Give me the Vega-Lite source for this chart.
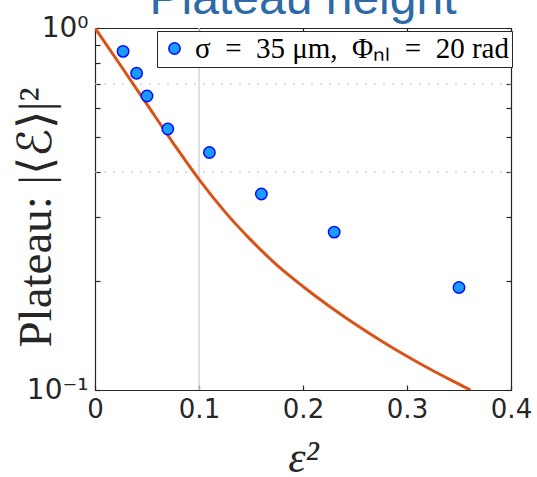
{
  "$schema": "https://vega.github.io/schema/vega-lite/v6.json",
  "width": 416,
  "height": 362,
  "autosize": {"type": "none"},
  "padding": {"left": 95, "top": 28, "right": 26, "bottom": 87},
  "background": "white",
  "title": {
    "text": "Plateau height",
    "font": "Liberation Sans",
    "fontSize": 48,
    "fontWeight": "normal",
    "color": "#2e6aa6",
    "anchor": "middle",
    "frame": "group",
    "baseline": "alphabetic",
    "offset": -48
  },
  "config": {
    "view": {"stroke": null},
    "axis": {
      "grid": false,
      "domainColor": "#262626",
      "domainWidth": 1.2,
      "tickColor": "#262626",
      "tickWidth": 1.2,
      "tickSize": -5,
      "labelColor": "#262626",
      "labelFont": "DejaVu Sans",
      "labelFontSize": 26,
      "labelFlush": false,
      "titleColor": "#262626",
      "titleFont": "Liberation Serif",
      "titleFontWeight": "normal",
      "titleFontSize": 44
    }
  },
  "datasets": {
    "model": [
      {"eps2": 0.0, "plateau": 1.0},
      {"eps2": 0.025, "plateau": 0.7852},
      {"eps2": 0.05, "plateau": 0.6152},
      {"eps2": 0.075, "plateau": 0.4819},
      {"eps2": 0.1, "plateau": 0.3819},
      {"eps2": 0.125, "plateau": 0.3105},
      {"eps2": 0.15, "plateau": 0.2594},
      {"eps2": 0.175, "plateau": 0.2213},
      {"eps2": 0.2, "plateau": 0.1932},
      {"eps2": 0.225, "plateau": 0.1706},
      {"eps2": 0.25, "plateau": 0.1521},
      {"eps2": 0.275, "plateau": 0.1368},
      {"eps2": 0.3, "plateau": 0.1239},
      {"eps2": 0.325, "plateau": 0.113},
      {"eps2": 0.35, "plateau": 0.1038},
      {"eps2": 0.361, "plateau": 0.1}
    ],
    "measured": [
      {"eps2": 0.027, "plateau": 0.862, "series": "σ = 35 μm, Φₙₗ = 20 rad"},
      {"eps2": 0.04, "plateau": 0.75, "series": "σ = 35 μm, Φₙₗ = 20 rad"},
      {"eps2": 0.05, "plateau": 0.649, "series": "σ = 35 μm, Φₙₗ = 20 rad"},
      {"eps2": 0.07, "plateau": 0.526, "series": "σ = 35 μm, Φₙₗ = 20 rad"},
      {"eps2": 0.11, "plateau": 0.453, "series": "σ = 35 μm, Φₙₗ = 20 rad"},
      {"eps2": 0.16, "plateau": 0.348, "series": "σ = 35 μm, Φₙₗ = 20 rad"},
      {"eps2": 0.23, "plateau": 0.273, "series": "σ = 35 μm, Φₙₗ = 20 rad"},
      {"eps2": 0.35, "plateau": 0.192, "series": "σ = 35 μm, Φₙₗ = 20 rad"}
    ],
    "vgrid": [{"eps2": 0.1}],
    "hgrid": [{"plateau": 0.7}, {"plateau": 0.4}]
  },
  "resolve": {"axis": {"x": "independent", "y": "independent"}},
  "layer": [
    {
      "data": {"name": "vgrid"},
      "mark": {"type": "rule", "color": "#d4d4d4", "strokeWidth": 1.5},
      "encoding": {
        "x": {"field": "eps2", "type": "quantitative", "scale": {"domain": [0, 0.4], "nice": false}, "axis": null}
      }
    },
    {
      "data": {"name": "hgrid"},
      "mark": {"type": "rule", "color": "#bdbdbd", "strokeWidth": 1, "strokeDash": [2, 7]},
      "encoding": {
        "y": {"field": "plateau", "type": "quantitative", "scale": {"type": "log", "domain": [0.1, 1], "nice": false}, "axis": null}
      }
    },
    {
      "data": {"name": "model"},
      "mark": {"type": "line", "color": "#d95319", "strokeWidth": 3, "interpolate": "monotone", "clip": true},
      "encoding": {
        "x": {
          "field": "eps2", "type": "quantitative",
          "scale": {"domain": [0, 0.4], "nice": false},
          "axis": {
            "orient": "bottom",
            "values": [0, 0.1, 0.2, 0.3, 0.4],
            "labelExpr": "datum.value == 0 ? '0' : format(datum.value, '.1f')",
            "labelPadding": 11,
            "title": "ε²",
            "titleFontStyle": "italic",
            "titlePadding": 14
          }
        },
        "y": {
          "field": "plateau", "type": "quantitative",
          "scale": {"type": "log", "domain": [0.1, 1], "nice": false},
          "axis": {
            "orient": "left",
            "values": [0.1, 0.2, 0.3, 0.4, 0.5, 0.6, 0.7, 0.8, 0.9, 1],
            "labelExpr": "datum.value == 1 ? '10⁰' : (datum.value == 0.1 ? '10⁻¹' : '')",
            "labelFontSize": 28,
            "labelPadding": 12,
            "title": "Plateau: |⟨ℰ⟩|²",
            "titleFontSize": 47,
            "titlePadding": -34,
            "titleY": 189
          }
        }
      }
    },
    {
      "data": {"name": "measured"},
      "mark": {"type": "point", "shape": "circle", "filled": true, "opacity": 1, "size": 130, "stroke": "#0a0aff", "strokeWidth": 1.5},
      "encoding": {
        "x": {
          "field": "eps2", "type": "quantitative",
          "scale": {"domain": [0, 0.4], "nice": false},
          "axis": {"orient": "top", "values": [0, 0.1, 0.2, 0.3, 0.4], "labels": false, "title": null}
        },
        "y": {
          "field": "plateau", "type": "quantitative",
          "scale": {"type": "log", "domain": [0.1, 1], "nice": false},
          "axis": {"orient": "right", "values": [0.1, 0.2, 0.3, 0.4, 0.5, 0.6, 0.7, 0.8, 0.9, 1], "labels": false, "title": null}
        },
        "fill": {
          "field": "series", "type": "nominal",
          "scale": {"range": ["#1a9bff"]},
          "legend": {
            "orient": "none",
            "legendX": 62,
            "legendY": 3,
            "title": null,
            "strokeColor": "#262626",
            "fillColor": "white",
            "padding": 3,
            "labelFont": "Liberation Serif",
            "labelFontSize": 29,
            "labelColor": "black",
            "labelLimit": 400,
            "labelOffset": 6,
            "labelExpr": "'σ\u2002=\u200235\u2005μm,\u2002Φₙₗ\u2002=\u200220\u2005rad'",
            "symbolType": "circle",
            "symbolSize": 130,
            "symbolStrokeColor": "#0a0aff",
            "symbolStrokeWidth": 1.5
          }
        }
      }
    }
  ]
}
